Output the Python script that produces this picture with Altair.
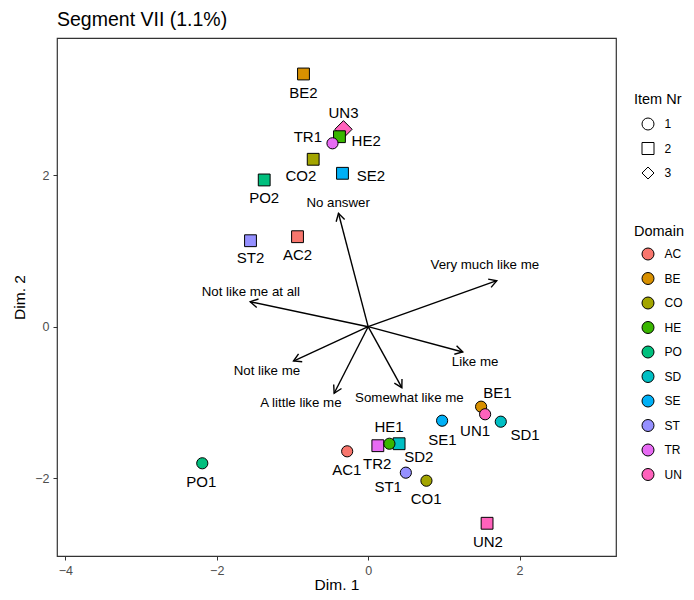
import altair as alt
import pandas as pd
import numpy as np

# ---- data ----
point_labels = ["UN3",
                "AC2", "BE2", "CO2", "HE2", "PO2", "SD2", "SE2", "ST2", "TR2", "UN2",
                "AC1", "BE1", "CO1", "HE1", "PO1", "SD1", "SE1", "ST1", "TR1", "UN1"]
point_domain = ["UN",
                "AC", "BE", "CO", "HE", "PO", "SD", "SE", "ST", "TR", "UN",
                "AC", "BE", "CO", "HE", "PO", "SD", "SE", "ST", "TR", "UN"]
point_item = ["3",
              "2", "2", "2", "2", "2", "2", "2", "2", "2", "2",
              "1", "1", "1", "1", "1", "1", "1", "1", "1", "1"]
point_x = [-0.326,
           -0.933, -0.854, -0.726, -0.379, -1.373, 0.409, -0.339, -1.554, 0.128, 1.571,
           -0.277, 1.492, 0.770, 0.281, -2.191, 1.752, 0.977, 0.498, -0.471, 1.545]
point_y = [2.606,
           1.188, 3.336, 2.210, 2.508, 1.937, -1.545, 2.025, 1.135, -1.571, -2.595,
           -1.645, -1.056, -2.033, -1.545, -1.803, -1.254, -1.241, -1.927, 2.421, -1.156]
# label positions (as placed by the repelling labeller in the original)
label_x = [-0.326,
           -0.933, -0.854, -0.888, -0.026, -1.373, 0.669, 0.036, -1.554, 0.119, 1.582,
           -0.281, 1.707, 0.766, 0.277, -2.205, 2.073, 0.981, 0.264, -0.796, 1.413]
label_y = [2.817,
           0.947, 3.089, 1.993, 2.451, 1.703, -1.724, 1.993, 0.903, -1.813, -2.846,
           -1.896, -0.871, -2.271, -1.320, -2.054, -1.430, -1.496, -2.120, 2.500, -1.377]

arrow_names = ["Not like me at all", "Not like me", "A little like me",
               "Somewhat like me", "Like me", "Very much like me", "No answer"]
arrow_x = [-1.558, -0.986, -0.449, 0.445, 1.250, 1.699, -0.392]
arrow_y = [0.330, -0.453, -0.879, -0.805, -0.334, 0.607, 1.497]
arrow_label_x = [-1.549, -1.337, -0.888, 0.545, 1.413, 1.541, -0.396]
arrow_label_y = [0.454, -0.585, -1.011, -0.937, -0.470, 0.815, 1.629]

domains = ["AC", "BE", "CO", "HE", "PO", "SD", "SE", "ST", "TR", "UN"]
domain_colors = ["#F8766D", "#D89000", "#A3A500", "#39B600", "#00BF7D",
                 "#00BFC4", "#00B0F6", "#9590FF", "#E76BF3", "#FF62BC"]
items = ["1", "2", "3"]
item_shapes = ["circle", "square", "diamond"]

x_ticks = [-4, -2, 0, 2]
y_ticks = [-2, 0, 2]
XDOM = [-4.11, 3.274]
YDOM = [-3.027, 3.811]

FONT = "Liberation Sans"

pts = pd.DataFrame({"label": point_labels, "domain": point_domain, "item": point_item,
                    "x": point_x, "y": point_y, "lx": label_x, "ly": label_y})
arr = pd.DataFrame({"name": arrow_names, "x": arrow_x, "y": arrow_y,
                    "lx": arrow_label_x, "ly": arrow_label_y})
arr["x0"] = 0.0
arr["y0"] = 0.0
arr["angle"] = np.degrees(np.arctan2(arr["x"], arr["y"])) % 360

xs = alt.Scale(domain=XDOM, nice=False, zero=False)
ys = alt.Scale(domain=YDOM, nice=False, zero=False)
xax = alt.Axis(values=x_ticks, title="Dim. 1", format="d", labelPadding=4, titlePadding=1)
yax = alt.Axis(values=y_ticks, title="Dim. 2", format="d", labelPadding=4, titlePadding=7)

rules = alt.Chart(arr).mark_rule(color="black", strokeWidth=1.4).encode(
    x=alt.X("x0:Q", scale=xs, axis=xax),
    y=alt.Y("y0:Q", scale=ys, axis=yax),
    x2="x:Q", y2="y:Q")

heads = alt.Chart(arr).mark_point(
    shape="M-0.577,1L0,0L0.577,1", filled=False, size=230,
    color="black", strokeWidth=1.4, opacity=1).encode(
    x=alt.X("x:Q", scale=xs, axis=xax),
    y=alt.Y("y:Q", scale=ys, axis=yax),
    angle=alt.Angle("angle:Q", scale=None))

arrow_text = alt.Chart(arr).mark_text(fontSize=13.3, font=FONT, color="black").encode(
    x=alt.X("lx:Q", scale=xs, axis=xax),
    y=alt.Y("ly:Q", scale=ys, axis=yax),
    text="name:N")

legend_common = dict(orient="none", legendX=577, symbolStrokeColor="black",
                     symbolStrokeWidth=1, symbolSize=144, symbolOpacity=1,
                     symbolOffset=7.5,
                     titleFontSize=14.5, titleFontWeight="normal", titleFont=FONT,
                     titleColor="black", labelFontSize=12, labelFont=FONT,
                     labelColor="black", rowPadding=7.5, labelOffset=10, padding=0)
shape_legend = alt.Legend(title="Item Nr", legendY=55, symbolFillColor="white",
                          titlePadding=10, **legend_common)
color_legend = alt.Legend(title="Domain", legendY=187, symbolType="circle",
                          titlePadding=8, **legend_common)

color_enc = alt.Color("domain:N", scale=alt.Scale(domain=domains, range=domain_colors),
                      legend=color_legend)
shape_enc = alt.Shape("item:N", scale=alt.Scale(domain=items, range=item_shapes),
                      legend=shape_legend)


def point_layer(item, size):
    return alt.Chart(pts).transform_filter(alt.datum.item == item).mark_point(
        filled=True, stroke="black", strokeWidth=1, opacity=1, size=size).encode(
        x=alt.X("x:Q", scale=xs, axis=xax),
        y=alt.Y("y:Q", scale=ys, axis=yax),
        color=color_enc, shape=shape_enc)


p3 = point_layer("3", 300)
p2 = point_layer("2", 140)
p1 = point_layer("1", 125)

point_text = alt.Chart(pts).mark_text(fontSize=15, font=FONT, color="black").encode(
    x=alt.X("lx:Q", scale=xs, axis=xax),
    y=alt.Y("ly:Q", scale=ys, axis=yax),
    text="label:N")

chart = alt.layer(rules, heads, arrow_text, p3, p2, p1, point_text).properties(
    width=559, height=518,
    title=alt.TitleParams("Segment VII (1.1%)", anchor="start", frame="group",
                          fontSize=19.5, font=FONT, fontWeight="normal",
                          color="black", offset=8),
    autosize=alt.AutoSizeParams(type="none"),
    padding={"left": 49, "top": 30, "right": 70, "bottom": 36},
).configure_view(stroke="#333333", strokeWidth=1.2).configure_axis(
    domain=False, grid=False, tickColor="#333333", tickSize=4, tickWidth=1,
    labelColor="#4D4D4D", labelFontSize=12.5, labelFont=FONT,
    titleFont=FONT, titleFontSize=15.5, titleFontWeight="normal", titleColor="black")

chart.save("out.html", embed_options={"renderer": "svg", "actions": False})
